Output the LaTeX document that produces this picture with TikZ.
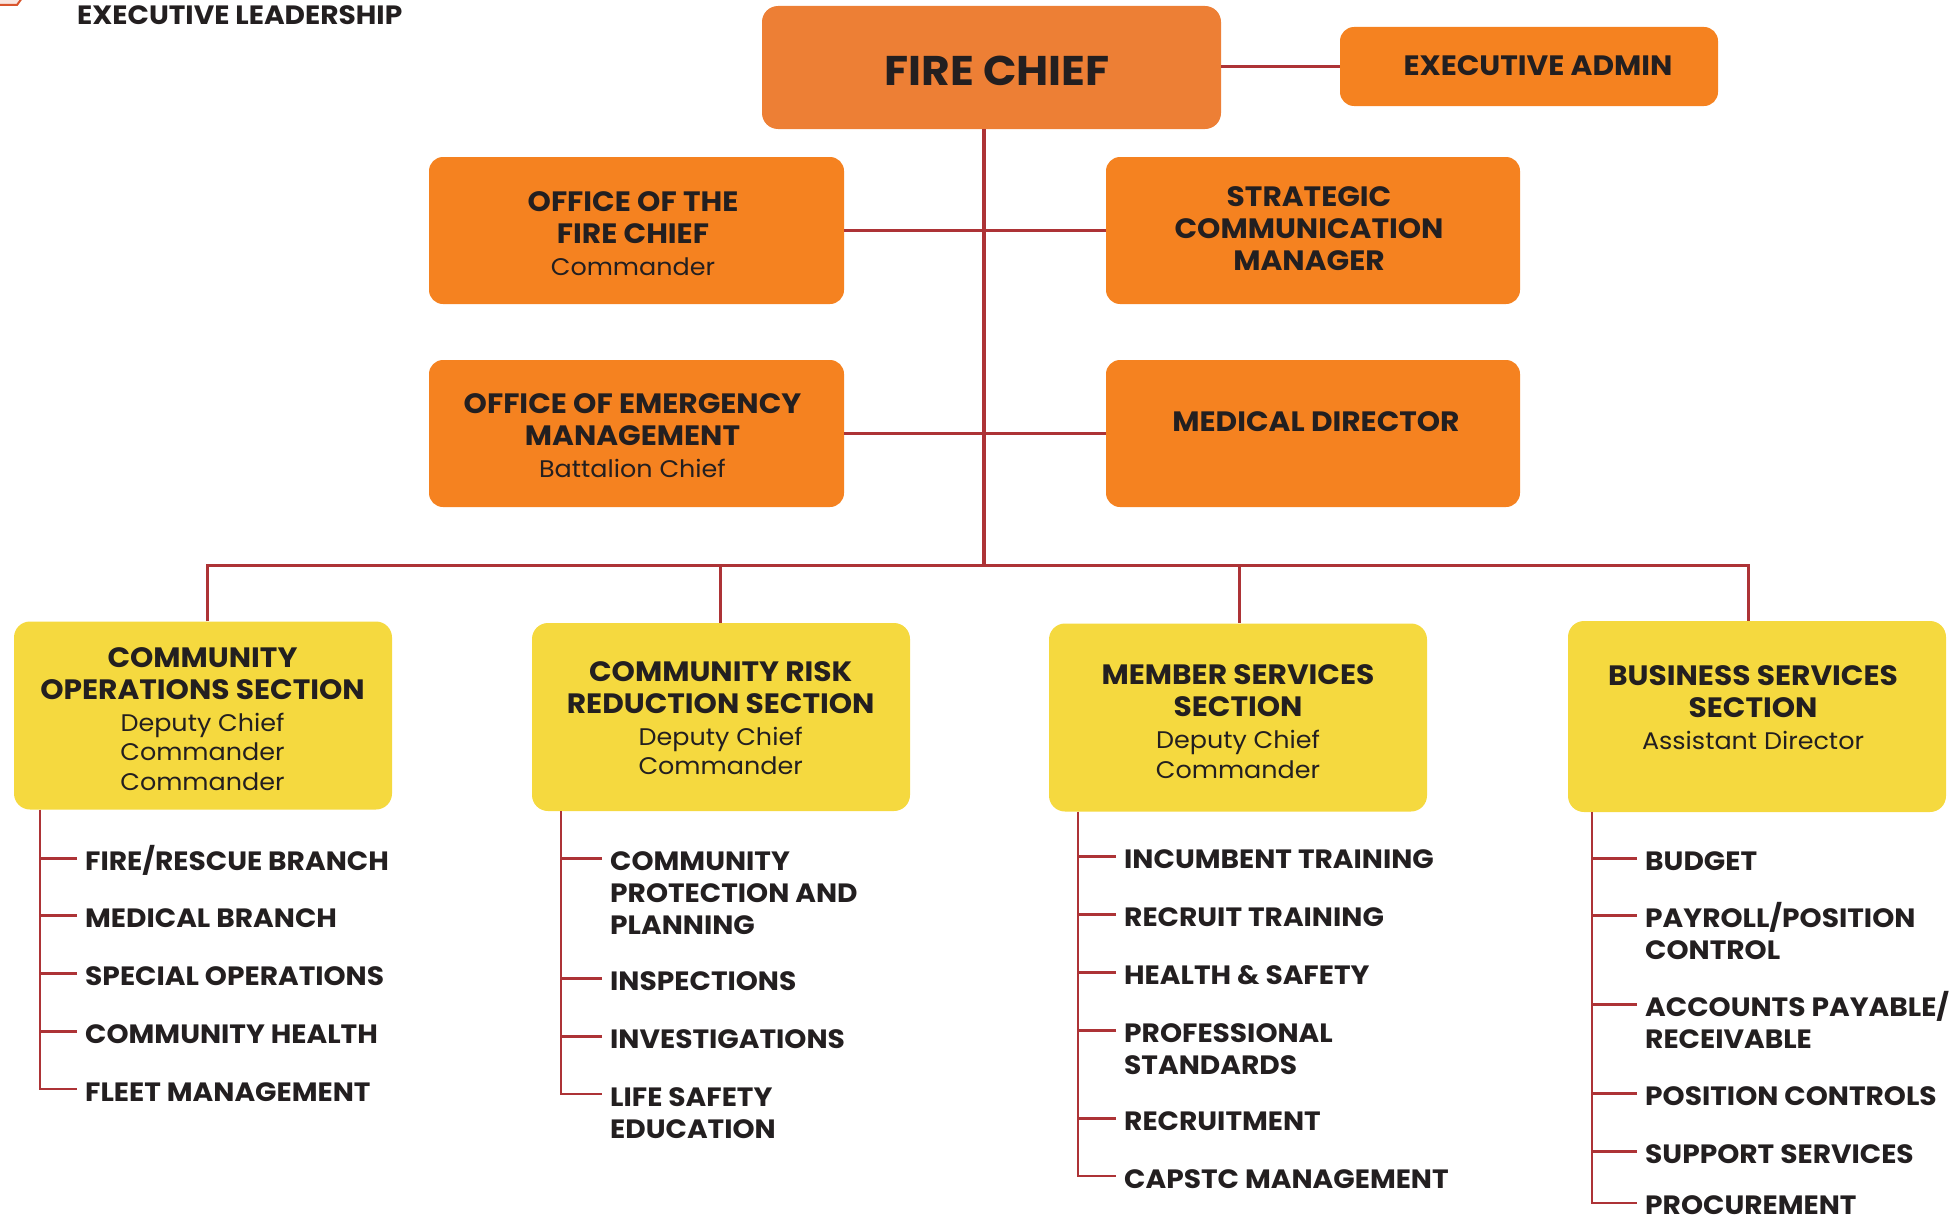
\documentclass[tikz,border=0pt]{standalone}
\usepackage{fontspec}
\setmainfont{Poppins}[FakeStretch=1.06]
\definecolor{chiefor}{HTML}{ED7F35}
\definecolor{boxor}{HTML}{F58220}
\definecolor{secy}{HTML}{F5D93F}
\definecolor{linkred}{HTML}{AD3336}
\definecolor{txt}{HTML}{231F20}
\definecolor{logored}{HTML}{D9542C}
\newcommand\subt[1]{{\mdseries\fontsize{24}{32}\selectfont #1}}
\newcommand\tickto[2]{\draw[tickline] ([xshift=-8pt,yshift=-13.3pt]#1.north west) -- ([yshift=-13.3pt]#1.north west -| #2);}
\newcommand\fl{\setbox0\hbox{/}\rule{0pt}{\ht0}}
\begin{document}
\begin{tikzpicture}[x=1pt,y=-1pt,
  obox/.style={fill=boxor, rounded corners=14pt, inner sep=0pt},
  cbox/.style={fill=chiefor, rounded corners=16pt, inner sep=0pt},
  ybox/.style={fill=secy, rounded corners=16pt, inner sep=0pt, minimum width=378pt, minimum height=188pt},
  ttl/.style={font=\bfseries\fontsize{28}{32}\selectfont, align=center, text=txt, inner sep=0pt},
  item/.style={font=\bfseries\fontsize{26.5}{32}\selectfont, align=left, anchor=north west, text=txt, inner sep=0pt},
  link/.style={draw=linkred, line width=3pt},
  tickline/.style={draw=linkred, line width=3pt},
  spine/.style={draw=linkred, line width=2.5pt}
]
\useasboundingbox (0,0) rectangle (1957,1223);
% logo fragment
\fill[logored!15] (0,-2) -- (20,-2) -- (16,5) -- (0,5) -- cycle;
\draw[logored, line width=2pt] (0,5) -- (17,5) -- (22,-2);
\node[font=\bfseries\fontsize{26.5}{30}\selectfont, text=txt, anchor=west, inner sep=0pt] (lead) at (77,15) {EXECUTIVE LEADERSHIP};

% top boxes
\node[cbox, minimum width=459pt, minimum height=123pt] (chief) at (991.5,67.5) {};
\node[ttl, font=\bfseries\fontsize{41.5}{46}\selectfont] (chieft) at (997,71) {FIRE CHIEF};
\node[obox, minimum width=378pt, minimum height=79pt] (admin) at (1529,66.5) {};
\node[ttl] (admint) at (1538,66) {EXECUTIVE ADMIN};

\node[obox, minimum width=415pt, minimum height=147pt] (ofc) at (636.5,230.5) {};
\node[ttl] (ofct) at (633,234) {OFFICE OF THE\\FIRE CHIEF\\\subt{Commander}};
\node[obox, minimum width=414pt, minimum height=147pt] (strat) at (1313,230.5) {};
\node[ttl] (stratt) at (1309,229) {STRATEGIC\\COMMUNICATION\\MANAGER};
\node[obox, minimum width=415pt, minimum height=147pt] (oem) at (636.5,433.5) {};
\node[ttl] (oemt) at (632.5,436) {OFFICE OF EMERGENCY\\MANAGEMENT\\\subt{Battalion Chief}};
\node[obox, minimum width=414pt, minimum height=147pt] (med) at (1313,433.5) {};
\node[ttl] (medt) at (1316,422) {MEDICAL DIRECTOR};

% section boxes
\node[ybox] (cos) at (203,715.5) {};
\node[ttl] (cost) at (202.5,719) {COMMUNITY\\OPERATIONS SECTION\\\subt{Deputy Chief}\\[-2.5pt]\subt{Commander}\\[-2.5pt]\subt{Commander}};
\node[ybox] (crr) at (721,717) {};
\node[ttl] (crrt) at (720.7,718) {COMMUNITY RISK\\REDUCTION SECTION\\\subt{Deputy Chief}\\[-2.5pt]\subt{Commander}};
\node[ybox] (mss) at (1238,717.5) {};
\node[ttl] (msst) at (1238,721.5) {MEMBER SERVICES\\SECTION\\\subt{Deputy Chief}\\[-2.5pt]\subt{Commander}};
\node[ybox, minimum height=191pt] (bss) at (1757,716.5) {};
\node[ttl] (bsst) at (1753,708) {BUSINESS SERVICES\\SECTION\\\subt{Assistant Director}};

% connectors top
\draw[link] (admin.west) -- (admin.west -| chief.east);
\coordinate (trunk) at (984,565);
\draw[link, line width=3.5pt] (chief.south -| trunk) -- (trunk);
\draw[link] (ofc.east) -- (strat.west);
\draw[link] (oem.east) -- (med.west);
\coordinate (d1) at (207,565);
\coordinate (d2) at (720.7,565);
\coordinate (d3) at (1239,565);
\coordinate (d4) at (1748.5,565);
\draw[link] (d1 |- cos.north) -- (d1) -- (d4) -- (d4 |- bss.north);
\draw[link] (d2) -- (d2 |- crr.north);
\draw[link] (d3) -- (d3 |- mss.north);

% spines x
\coordinate (s1) at (40,0);
\coordinate (s2) at (561,0);
\coordinate (s3) at (1078,0);
\coordinate (s4) at (1592,0);

% COS items
\node[item] (a1) at (85,844.7) {\fl FIRE/RESCUE BRANCH};
\node[item] (a2) at (85,901.7) {\fl MEDICAL BRANCH};
\node[item] (a3) at (85,959.7) {\fl SPECIAL OPERATIONS};
\node[item] (a4) at (85,1017.7) {\fl COMMUNITY HEALTH};
\node[item] (a5) at (85,1075.7) {\fl FLEET MANAGEMENT};
\tickto{a1}{s1}\tickto{a2}{s1}\tickto{a3}{s1}\tickto{a4}{s1}
\draw[spine] (cos.south -| s1) |- ([xshift=-8pt,yshift=-13.3pt]a5.north west);

% CRR items
\node[item] (b1) at (610,844.7) {\fl COMMUNITY\\PROTECTION AND\\PLANNING};
\node[item] (b2) at (610,964.7) {\fl INSPECTIONS};
\node[item] (b3) at (610,1022.7) {\fl INVESTIGATIONS};
\node[item] (b4) at (610,1080.7) {\fl LIFE SAFETY\\EDUCATION};
\tickto{b1}{s2}\tickto{b2}{s2}\tickto{b3}{s2}
\draw[spine] (crr.south -| s2) |- ([xshift=-8pt,yshift=-13.3pt]b4.north west);

% MSS items
\node[item] (m1) at (1124,842.7) {\fl INCUMBENT TRAINING};
\node[item] (m2) at (1124,900.7) {\fl RECRUIT TRAINING};
\node[item] (m3) at (1124,958.7) {\fl HEALTH \& SAFETY};
\node[item] (m4) at (1124,1016.7) {\fl PROFESSIONAL\\STANDARDS};
\node[item] (m5) at (1124,1104.7) {\fl RECRUITMENT};
\node[item] (m6) at (1124,1162.7) {\fl CAPSTC MANAGEMENT};
\tickto{m1}{s3}\tickto{m2}{s3}\tickto{m3}{s3}\tickto{m4}{s3}\tickto{m5}{s3}
\draw[spine] (mss.south -| s3) |- ([xshift=-8pt,yshift=-13.3pt]m6.north west);

% BSS items
\node[item] (p1) at (1645,844.7) {\fl BUDGET};
\node[item] (p2) at (1645,901.7) {\fl PAYROLL/POSITION\\CONTROL};
\node[item] (p3) at (1645,990.7) {\fl ACCOUNTS PAYABLE/\\RECEIVABLE};
\node[item] (p4) at (1645,1079.7) {\fl POSITION CONTROLS};
\node[item] (p5) at (1645,1137.7) {\fl SUPPORT SERVICES};
\node[item] (p6) at (1645,1189.5) {\fl PROCUREMENT};
\tickto{p1}{s4}\tickto{p2}{s4}\tickto{p3}{s4}\tickto{p4}{s4}\tickto{p5}{s4}
\draw[spine] (bss.south -| s4) |- ([xshift=-8pt,yshift=-13.3pt]p6.north west);
\end{tikzpicture}
\end{document}
